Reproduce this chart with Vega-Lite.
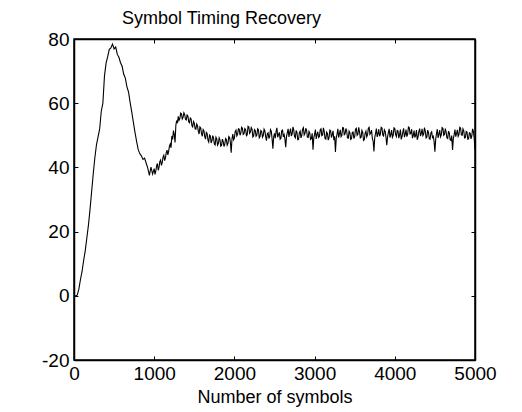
{
  "$schema": "https://vega.github.io/schema/vega-lite/v6.json",
  "width": 401,
  "height": 321,
  "autosize": "none",
  "padding": {"left": 74, "top": 39, "right": 47, "bottom": 52},
  "background": "white",
  "title": {"text": "Symbol Timing Recovery", "anchor": "middle", "dx": -53, "offset": -12, "baseline": "alphabetic", "font": "Liberation Sans", "fontSize": 18, "fontWeight": "normal", "color": "black"},
  "config": {
    "view": {"stroke": "black", "strokeWidth": 1.5},
    "axis": {"grid": false, "domainColor": "black", "domainWidth": 1.5, "tickColor": "black", "tickSize": -4, "tickWidth": 1, "labelFont": "Liberation Sans", "labelFontSize": 19, "labelColor": "black", "labelFlush": false, "labelOverlap": false, "labelExpr": "'' + datum.value", "titleFont": "Liberation Sans", "titleFontSize": 18, "titleFontWeight": "normal", "titleColor": "black"}
  },
  "data": {"values": [
    {"n": 0, "v": 0}, {"n": 20, "v": 0}, {"n": 40, "v": 0.2}, {"n": 60, "v": 2}, {"n": 80, "v": 5}, {"n": 100, "v": 7.5}, {"n": 120, "v": 11}, {"n": 140, "v": 14}, {"n": 160, "v": 18}, {"n": 180, "v": 22}, {"n": 200, "v": 27}, {"n": 220, "v": 32.5}, {"n": 240, "v": 38}, {"n": 260, "v": 43}, {"n": 280, "v": 47}, {"n": 300, "v": 49.5}, {"n": 320, "v": 52}, {"n": 340, "v": 57.5}, {"n": 360, "v": 60}, {"n": 380, "v": 68.5}, {"n": 400, "v": 72.5}, {"n": 420, "v": 74.5}, {"n": 440, "v": 76.8}, {"n": 460, "v": 77.2}, {"n": 480, "v": 78.4}, {"n": 500, "v": 76.9}, {"n": 520, "v": 77.5}, {"n": 540, "v": 75.2}, {"n": 560, "v": 74.3}, {"n": 580, "v": 72.6}, {"n": 600, "v": 71.5}, {"n": 620, "v": 69.0}, {"n": 640, "v": 67.8}, {"n": 660, "v": 65.1}, {"n": 680, "v": 63.5}, {"n": 700, "v": 60.2}, {"n": 720, "v": 57.3}, {"n": 740, "v": 54.1}, {"n": 760, "v": 51.0}, {"n": 780, "v": 48.2}, {"n": 800, "v": 45.6}, {"n": 820, "v": 44.3}, {"n": 840, "v": 43.6}, {"n": 860, "v": 42.5}, {"n": 880, "v": 42.9}, {"n": 900, "v": 41.3}, {"n": 920, "v": 39.8}, {"n": 940, "v": 37.5}, {"n": 960, "v": 40.1}, {"n": 980, "v": 37.9},
    {"n": 1000, "v": 39.6}, {"n": 1010, "v": 37.8}, {"n": 1020, "v": 38.8}, {"n": 1030, "v": 40.5}, {"n": 1040, "v": 41.2}, {"n": 1050, "v": 39.1}, {"n": 1060, "v": 40.0}, {"n": 1070, "v": 41.8}, {"n": 1080, "v": 42.3}, {"n": 1090, "v": 40.6}, {"n": 1100, "v": 41.5}, {"n": 1110, "v": 43.2}, {"n": 1120, "v": 43.8}, {"n": 1130, "v": 42.1}, {"n": 1140, "v": 42.9}, {"n": 1150, "v": 44.6}, {"n": 1160, "v": 45.4}, {"n": 1170, "v": 43.9}, {"n": 1180, "v": 45.0}, {"n": 1190, "v": 46.6}, {"n": 1200, "v": 47.3}, {"n": 1210, "v": 46.1}, {"n": 1220, "v": 49.8}, {"n": 1230, "v": 48.7}, {"n": 1240, "v": 51.5}, {"n": 1250, "v": 50.2}, {"n": 1260, "v": 47.8}, {"n": 1270, "v": 53.1}, {"n": 1280, "v": 54.6}, {"n": 1290, "v": 53.8}, {"n": 1300, "v": 55.9}, {"n": 1310, "v": 54.7}, {"n": 1320, "v": 55.2}, {"n": 1330, "v": 56.9}, {"n": 1340, "v": 56.7}, {"n": 1350, "v": 55.1}, {"n": 1360, "v": 55.6}, {"n": 1370, "v": 57.0}, {"n": 1380, "v": 56.5}, {"n": 1390, "v": 55.0}, {"n": 1400, "v": 54.8}, {"n": 1410, "v": 56.3}, {"n": 1420, "v": 56.0}, {"n": 1430, "v": 54.2}, {"n": 1440, "v": 53.9}, {"n": 1450, "v": 55.4}, {"n": 1460, "v": 55.1}, {"n": 1470, "v": 53.0}, {"n": 1480, "v": 52.6}, {"n": 1490, "v": 54.3}, {"n": 1500, "v": 53.8}, {"n": 1510, "v": 52.0}, {"n": 1520, "v": 51.9}, {"n": 1530, "v": 53.5}, {"n": 1540, "v": 53.0}, {"n": 1550, "v": 51.2}, {"n": 1560, "v": 50.4}, {"n": 1570, "v": 52.6}, {"n": 1580, "v": 52.3}, {"n": 1590, "v": 50.5}, {"n": 1600, "v": 49.7}, {"n": 1610, "v": 51.8}, {"n": 1620, "v": 51.4}, {"n": 1630, "v": 49.6}, {"n": 1640, "v": 48.8}, {"n": 1650, "v": 50.9}, {"n": 1660, "v": 50.6}, {"n": 1670, "v": 48.5}, {"n": 1680, "v": 47.9}, {"n": 1690, "v": 50.1}, {"n": 1700, "v": 49.8}, {"n": 1710, "v": 47.6}, {"n": 1720, "v": 48.3}, {"n": 1730, "v": 49.9}, {"n": 1740, "v": 49.2}, {"n": 1750, "v": 47.3}, {"n": 1760, "v": 47.0}, {"n": 1770, "v": 49.4}, {"n": 1780, "v": 48.9}, {"n": 1790, "v": 46.9}, {"n": 1800, "v": 47.4}, {"n": 1810, "v": 49.2}, {"n": 1820, "v": 48.6}, {"n": 1830, "v": 46.6}, {"n": 1840, "v": 46.8}, {"n": 1850, "v": 48.8}, {"n": 1860, "v": 48.1}, {"n": 1870, "v": 46.5}, {"n": 1880, "v": 47.2}, {"n": 1890, "v": 49.0}, {"n": 1900, "v": 48.7}, {"n": 1910, "v": 46.9}, {"n": 1920, "v": 47.5}, {"n": 1930, "v": 49.6}, {"n": 1940, "v": 49.3}, {"n": 1950, "v": 47.8}, {"n": 1960, "v": 44.6}, {"n": 1970, "v": 48.9}, {"n": 1980, "v": 50.4}, {"n": 1990, "v": 48.6},
    {"n": 2000, "v": 49.1}, {"n": 2010, "v": 51.2}, {"n": 2020, "v": 51.6}, {"n": 2030, "v": 49.8}, {"n": 2040, "v": 50.3}, {"n": 2050, "v": 52.0}, {"n": 2060, "v": 51.9}, {"n": 2070, "v": 50.0}, {"n": 2080, "v": 50.7}, {"n": 2090, "v": 52.5}, {"n": 2100, "v": 52.2}, {"n": 2110, "v": 50.3}, {"n": 2120, "v": 50.5}, {"n": 2130, "v": 52.1}, {"n": 2140, "v": 51.8}, {"n": 2150, "v": 49.9}, {"n": 2160, "v": 50.2}, {"n": 2170, "v": 52.8}, {"n": 2180, "v": 52.6}, {"n": 2190, "v": 50.6}, {"n": 2200, "v": 51.0}, {"n": 2210, "v": 52.4}, {"n": 2220, "v": 51.9}, {"n": 2230, "v": 49.5}, {"n": 2240, "v": 49.8}, {"n": 2250, "v": 51.8}, {"n": 2260, "v": 51.5}, {"n": 2270, "v": 49.7}, {"n": 2280, "v": 50.1}, {"n": 2290, "v": 52.0}, {"n": 2300, "v": 51.7}, {"n": 2310, "v": 49.2}, {"n": 2320, "v": 49.6}, {"n": 2330, "v": 51.5}, {"n": 2340, "v": 51.2}, {"n": 2350, "v": 49.4}, {"n": 2360, "v": 49.9}, {"n": 2370, "v": 51.9}, {"n": 2380, "v": 51.4}, {"n": 2390, "v": 49.6}, {"n": 2400, "v": 48.3}, {"n": 2410, "v": 50.5}, {"n": 2420, "v": 50.8}, {"n": 2430, "v": 49.0}, {"n": 2440, "v": 49.7}, {"n": 2450, "v": 51.8}, {"n": 2460, "v": 51.3}, {"n": 2470, "v": 48.9}, {"n": 2480, "v": 45.8}, {"n": 2490, "v": 49.5},
    {"n": 2500, "v": 50.6}, {"n": 2510, "v": 49.1}, {"n": 2520, "v": 51.2}, {"n": 2530, "v": 52.3}, {"n": 2540, "v": 49.4}, {"n": 2550, "v": 50.2}, {"n": 2560, "v": 50.9}, {"n": 2570, "v": 48.8}, {"n": 2580, "v": 49.1}, {"n": 2590, "v": 51.4}, {"n": 2600, "v": 51.6}, {"n": 2610, "v": 49.5}, {"n": 2620, "v": 50.2}, {"n": 2630, "v": 48.9}, {"n": 2640, "v": 46.3}, {"n": 2650, "v": 49.7}, {"n": 2660, "v": 50.8}, {"n": 2670, "v": 52.0}, {"n": 2680, "v": 49.5}, {"n": 2690, "v": 50.9}, {"n": 2700, "v": 52.1}, {"n": 2710, "v": 49.8}, {"n": 2720, "v": 50.4}, {"n": 2730, "v": 52.6}, {"n": 2740, "v": 51.7}, {"n": 2750, "v": 49.6}, {"n": 2760, "v": 49.2}, {"n": 2770, "v": 51.5}, {"n": 2780, "v": 50.9}, {"n": 2790, "v": 48.6}, {"n": 2800, "v": 48.7}, {"n": 2810, "v": 50.8}, {"n": 2820, "v": 51.3}, {"n": 2830, "v": 49.2}, {"n": 2840, "v": 50.0}, {"n": 2850, "v": 51.9}, {"n": 2860, "v": 52.4}, {"n": 2870, "v": 50.1}, {"n": 2880, "v": 50.6}, {"n": 2890, "v": 52.2}, {"n": 2900, "v": 51.5}, {"n": 2910, "v": 49.4}, {"n": 2920, "v": 49.3}, {"n": 2930, "v": 51.2}, {"n": 2940, "v": 50.7}, {"n": 2950, "v": 48.7}, {"n": 2960, "v": 49.0}, {"n": 2970, "v": 50.6}, {"n": 2980, "v": 45.5}, {"n": 2990, "v": 49.2},
    {"n": 3000, "v": 50.3}, {"n": 3010, "v": 51.8}, {"n": 3020, "v": 48.9}, {"n": 3030, "v": 50.2}, {"n": 3040, "v": 51.1}, {"n": 3050, "v": 49.3}, {"n": 3060, "v": 49.6}, {"n": 3070, "v": 51.7}, {"n": 3080, "v": 52.0}, {"n": 3090, "v": 49.9}, {"n": 3100, "v": 50.1}, {"n": 3110, "v": 52.3}, {"n": 3120, "v": 51.2}, {"n": 3130, "v": 49.0}, {"n": 3140, "v": 48.8}, {"n": 3150, "v": 51.0}, {"n": 3160, "v": 50.6}, {"n": 3170, "v": 48.5}, {"n": 3180, "v": 49.2}, {"n": 3190, "v": 51.6}, {"n": 3200, "v": 51.4}, {"n": 3210, "v": 49.3}, {"n": 3220, "v": 50.2}, {"n": 3230, "v": 51.4}, {"n": 3240, "v": 48.5}, {"n": 3250, "v": 49.7}, {"n": 3260, "v": 44.8}, {"n": 3270, "v": 49.1}, {"n": 3280, "v": 50.4}, {"n": 3290, "v": 52.0}, {"n": 3300, "v": 49.3}, {"n": 3310, "v": 50.5}, {"n": 3320, "v": 51.7}, {"n": 3330, "v": 49.6}, {"n": 3340, "v": 50.0}, {"n": 3350, "v": 52.4}, {"n": 3360, "v": 52.3}, {"n": 3370, "v": 50.2}, {"n": 3380, "v": 50.5}, {"n": 3390, "v": 52.1}, {"n": 3400, "v": 51.4}, {"n": 3410, "v": 49.2}, {"n": 3420, "v": 49.1}, {"n": 3430, "v": 51.3}, {"n": 3440, "v": 50.8}, {"n": 3450, "v": 48.7}, {"n": 3460, "v": 48.9}, {"n": 3470, "v": 50.9}, {"n": 3480, "v": 51.0}, {"n": 3490, "v": 49.0},
    {"n": 3500, "v": 49.7}, {"n": 3510, "v": 51.9}, {"n": 3520, "v": 52.2}, {"n": 3530, "v": 50.0}, {"n": 3540, "v": 50.3}, {"n": 3550, "v": 52.5}, {"n": 3560, "v": 51.1}, {"n": 3570, "v": 49.2}, {"n": 3580, "v": 49.4}, {"n": 3590, "v": 51.5}, {"n": 3600, "v": 50.9}, {"n": 3610, "v": 48.4}, {"n": 3620, "v": 48.6}, {"n": 3630, "v": 50.7}, {"n": 3640, "v": 51.3}, {"n": 3650, "v": 49.5}, {"n": 3660, "v": 50.1}, {"n": 3670, "v": 52.2}, {"n": 3680, "v": 52.5}, {"n": 3690, "v": 50.3}, {"n": 3700, "v": 50.7}, {"n": 3710, "v": 51.6}, {"n": 3720, "v": 49.0}, {"n": 3730, "v": 48.2}, {"n": 3740, "v": 45.0}, {"n": 3750, "v": 49.3}, {"n": 3760, "v": 50.6}, {"n": 3770, "v": 52.1}, {"n": 3780, "v": 49.5}, {"n": 3790, "v": 50.4}, {"n": 3800, "v": 51.9}, {"n": 3810, "v": 49.7}, {"n": 3820, "v": 50.4}, {"n": 3830, "v": 52.5}, {"n": 3840, "v": 52.3}, {"n": 3850, "v": 50.1}, {"n": 3860, "v": 49.8}, {"n": 3870, "v": 51.7}, {"n": 3880, "v": 51.2}, {"n": 3890, "v": 49.4}, {"n": 3900, "v": 46.9}, {"n": 3910, "v": 49.6}, {"n": 3920, "v": 50.8}, {"n": 3930, "v": 52.0}, {"n": 3940, "v": 49.3}, {"n": 3950, "v": 50.2}, {"n": 3960, "v": 51.6}, {"n": 3970, "v": 49.4}, {"n": 3980, "v": 50.0}, {"n": 3990, "v": 52.3},
    {"n": 4000, "v": 52.1}, {"n": 4010, "v": 50.2}, {"n": 4020, "v": 49.6}, {"n": 4030, "v": 51.5}, {"n": 4040, "v": 51.3}, {"n": 4050, "v": 49.1}, {"n": 4060, "v": 50.2}, {"n": 4070, "v": 51.8}, {"n": 4080, "v": 48.7}, {"n": 4090, "v": 49.6}, {"n": 4100, "v": 51.0}, {"n": 4110, "v": 52.2}, {"n": 4120, "v": 49.4}, {"n": 4130, "v": 50.3}, {"n": 4140, "v": 51.8}, {"n": 4150, "v": 49.6}, {"n": 4160, "v": 50.3}, {"n": 4170, "v": 52.6}, {"n": 4180, "v": 52.4}, {"n": 4190, "v": 50.4}, {"n": 4200, "v": 50.6}, {"n": 4210, "v": 51.9}, {"n": 4220, "v": 49.1}, {"n": 4230, "v": 49.9}, {"n": 4240, "v": 51.5}, {"n": 4250, "v": 49.3}, {"n": 4260, "v": 50.0}, {"n": 4270, "v": 51.6}, {"n": 4280, "v": 48.6}, {"n": 4290, "v": 49.5}, {"n": 4300, "v": 51.2}, {"n": 4310, "v": 52.1}, {"n": 4320, "v": 49.8}, {"n": 4330, "v": 50.5}, {"n": 4340, "v": 52.0}, {"n": 4350, "v": 49.9}, {"n": 4360, "v": 50.4}, {"n": 4370, "v": 52.4}, {"n": 4380, "v": 51.3}, {"n": 4390, "v": 49.2}, {"n": 4400, "v": 49.5}, {"n": 4410, "v": 51.6}, {"n": 4420, "v": 50.9}, {"n": 4430, "v": 48.9}, {"n": 4440, "v": 48.8}, {"n": 4450, "v": 50.7}, {"n": 4460, "v": 51.1}, {"n": 4470, "v": 49.3}, {"n": 4480, "v": 49.7}, {"n": 4490, "v": 48.1},
    {"n": 4500, "v": 44.9}, {"n": 4510, "v": 48.8}, {"n": 4520, "v": 50.5}, {"n": 4530, "v": 51.9}, {"n": 4540, "v": 49.2}, {"n": 4550, "v": 50.3}, {"n": 4560, "v": 51.6}, {"n": 4570, "v": 49.5}, {"n": 4580, "v": 50.1}, {"n": 4590, "v": 52.4}, {"n": 4600, "v": 52.2}, {"n": 4610, "v": 50.0}, {"n": 4620, "v": 50.3}, {"n": 4630, "v": 52.1}, {"n": 4640, "v": 51.0}, {"n": 4650, "v": 49.2}, {"n": 4660, "v": 49.0}, {"n": 4670, "v": 51.3}, {"n": 4680, "v": 50.7}, {"n": 4690, "v": 48.6}, {"n": 4700, "v": 48.4}, {"n": 4710, "v": 49.9}, {"n": 4720, "v": 45.4}, {"n": 4730, "v": 49.0}, {"n": 4740, "v": 50.2}, {"n": 4750, "v": 51.8}, {"n": 4760, "v": 49.6}, {"n": 4770, "v": 50.5}, {"n": 4780, "v": 51.7}, {"n": 4790, "v": 49.7}, {"n": 4800, "v": 50.2}, {"n": 4810, "v": 52.5}, {"n": 4820, "v": 52.3}, {"n": 4830, "v": 50.1}, {"n": 4840, "v": 50.0}, {"n": 4850, "v": 52.0}, {"n": 4860, "v": 51.4}, {"n": 4870, "v": 49.2}, {"n": 4880, "v": 49.3}, {"n": 4890, "v": 51.2}, {"n": 4900, "v": 51.0}, {"n": 4910, "v": 48.8}, {"n": 4920, "v": 48.9}, {"n": 4930, "v": 50.8}, {"n": 4940, "v": 50.6}, {"n": 4950, "v": 48.9}, {"n": 4960, "v": 49.8}, {"n": 4970, "v": 52.0}, {"n": 4980, "v": 51.2}, {"n": 4990, "v": 49.0}, {"n": 5000, "v": 45.6}
  ]},
  "layer": [
    {
      "mark": {"type": "line", "color": "black", "strokeWidth": 1.1},
      "encoding": {
        "x": {"field": "n", "type": "quantitative", "scale": {"domain": [0, 5000], "nice": false}, "axis": {"orient": "bottom", "values": [0, 1000, 2000, 3000, 4000, 5000], "title": "Number of symbols", "labelPadding": 8, "titlePadding": 5}},
        "y": {"field": "v", "type": "quantitative", "scale": {"domain": [-20, 80], "nice": false, "zero": false}, "axis": {"orient": "left", "values": [-20, 0, 20, 40, 60, 80], "title": null, "labelPadding": 9}}
      }
    },
    {
      "mark": {"type": "line", "color": "black", "strokeWidth": 1, "strokeOpacity": 0},
      "encoding": {
        "x": {"field": "n", "type": "quantitative", "scale": {"domain": [0, 5000], "nice": false}, "axis": {"orient": "top", "values": [0, 1000, 2000, 3000, 4000, 5000], "labels": false, "title": null}},
        "y": {"field": "v", "type": "quantitative", "scale": {"domain": [-20, 80], "nice": false, "zero": false}, "axis": {"orient": "right", "values": [-20, 0, 20, 40, 60, 80], "labels": false, "title": null}}
      }
    }
  ],
  "resolve": {"axis": {"x": "independent", "y": "independent"}}
}
